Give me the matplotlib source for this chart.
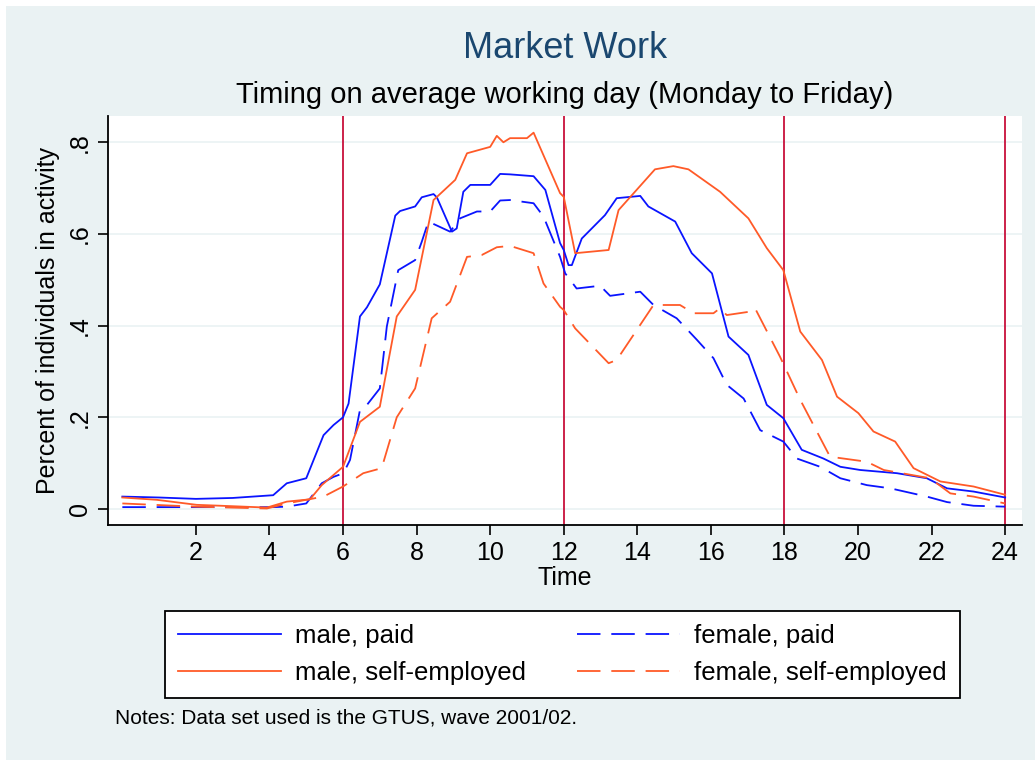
import matplotlib.pyplot as plt
from matplotlib.patches import Rectangle

# values (hour of day, share in activity)
male_paid_t = [0, 1, 2, 3, 4.1, 4.47, 5.0, 5.47, 5.74, 6.0, 6.15, 6.46, 6.65, 7.0, 7.42, 7.55,
               7.96, 8.14, 8.46, 8.55, 8.96, 9.09, 9.27, 9.46, 10.0, 10.27, 10.54, 11.18, 11.5,
               11.9, 12.0, 12.13, 12.22, 12.49, 13.12, 13.44, 14.08, 14.3, 15.03, 15.48, 16.03,
               16.48, 17.02, 17.52, 17.97, 18.47, 19.06, 19.52, 20.06, 21.06, 21.87, 22.42,
               23.14, 24.0]
male_paid = [0.027, 0.025, 0.022, 0.024, 0.03, 0.056, 0.067, 0.161, 0.183, 0.2, 0.23, 0.42, 0.44,
             0.49, 0.64, 0.65, 0.66, 0.68, 0.687, 0.68, 0.605, 0.612, 0.692, 0.707, 0.707, 0.731,
             0.73, 0.726, 0.696, 0.58, 0.565, 0.532, 0.532, 0.59, 0.641, 0.678, 0.683, 0.66,
             0.627, 0.558, 0.514, 0.376, 0.336, 0.227, 0.198, 0.129, 0.11, 0.092, 0.085, 0.078,
             0.067, 0.045, 0.038, 0.025]

female_paid_t = [0, 2, 4.1, 4.47, 5.0, 5.42, 5.74, 6.01, 6.19, 6.46, 6.65, 7.0, 7.19, 7.5, 7.96,
                 8.14, 8.32, 8.91, 9.18, 9.64, 10.0, 10.27, 10.54, 11.18, 11.45, 11.9, 12.04,
                 12.35, 12.99, 13.26, 14.08, 14.44, 15.07, 15.62, 16.07, 16.43, 16.89, 17.34,
                 17.97, 18.34, 18.97, 19.52, 20.24, 20.88, 21.87, 22.42, 23.14, 24.0]
female_paid = [0.004, 0.004, 0.004, 0.005, 0.012, 0.056, 0.07, 0.078, 0.107, 0.216, 0.227, 0.263,
               0.398, 0.521, 0.543, 0.583, 0.627, 0.605, 0.634, 0.649, 0.649, 0.673, 0.674, 0.667,
               0.638, 0.55, 0.514, 0.481, 0.487, 0.465, 0.474, 0.445, 0.416, 0.369, 0.329, 0.271,
               0.241, 0.172, 0.147, 0.11, 0.092, 0.067, 0.052, 0.045, 0.027, 0.015, 0.007, 0.005]

male_self_t = [0, 0.93, 2.02, 3.0, 3.93, 4.47, 5.1, 5.42, 6.0, 6.46, 7.0, 7.46, 7.96, 8.46, 9.05,
               9.37, 9.64, 10.0, 10.18, 10.36, 10.54, 11.0, 11.18, 11.9, 12.0, 12.31, 13.22,
               13.49, 14.08, 14.48, 14.98, 15.39, 16.25, 17.02, 17.52, 17.97, 18.43, 19.02,
               19.43, 20.01, 20.42, 21.01, 21.51, 22.24, 23.14, 24.0]
male_self = [0.025, 0.02, 0.009, 0.006, 0.003, 0.016, 0.021, 0.052, 0.092, 0.19, 0.223, 0.42,
             0.478, 0.674, 0.718, 0.776, 0.782, 0.79, 0.814, 0.80, 0.809, 0.809, 0.821, 0.689,
             0.681, 0.558, 0.565, 0.652, 0.705, 0.741, 0.748, 0.741, 0.692, 0.634, 0.569, 0.521,
             0.387, 0.325, 0.245, 0.209, 0.169, 0.147, 0.089, 0.06, 0.049, 0.031]

female_self_t = [0, 2.0, 3.93, 4.47, 5.47, 6.0, 6.55, 7.05, 7.46, 7.96, 8.41, 8.91, 9.37, 9.77,
                 10.18, 10.54, 11.18, 11.45, 11.9, 12.0, 12.31, 13.22, 13.44, 14.44, 15.16, 15.53,
                 16.07, 16.25, 16.43, 17.02, 17.2, 17.88, 18.43, 19.24, 20.24, 20.7, 21.96, 22.51,
                 23.14, 24.0]
female_self = [0.012, 0.005, 0.001, 0.012, 0.027, 0.049, 0.078, 0.089, 0.2, 0.263, 0.416, 0.452,
               0.55, 0.554, 0.571, 0.574, 0.558, 0.492, 0.441, 0.434, 0.394, 0.318, 0.325, 0.445,
               0.445, 0.427, 0.427, 0.438, 0.423, 0.43, 0.438, 0.332, 0.238, 0.114, 0.103, 0.085,
               0.067, 0.034, 0.027, 0.012]

x_ticks = [2, 4, 6, 8, 10, 12, 14, 16, 18, 20, 22, 24]
y_ticks = [0, 0.2, 0.4, 0.6, 0.8]
y_tick_labels = ['0', '.2', '.4', '.6', '.8']
marker_hours = [6, 12, 18, 24]

plt.rcParams['font.family'] = ['Liberation Sans', 'DejaVu Sans']

W, H = 1035, 760
fig = plt.figure(figsize=(W / 100, H / 100), dpi=100, facecolor='white')

# light graph region like Stata s2color
fig.add_artist(Rectangle((6 / W, 0), 1 - 6 / W, 1 - 6 / H, transform=fig.transFigure,
                         facecolor='#eaf2f3', edgecolor='none', zorder=-10))

ax = fig.add_axes([108 / W, 1 - 525 / H, (1021.7 - 108) / W, (525 - 115.7) / H])
ax.set_facecolor('white')

blue = '#0a14ff'
orange = '#ff5a28'
dash = (0, (13, 6))

for t in y_ticks:
    ax.axhline(t, color='#eaf2f3', lw=1.2, zorder=1)
for h in marker_hours:
    ax.axvline(h, color='#c8103c', lw=1.3, zorder=2)

l1, = ax.plot(male_paid_t, male_paid, color=blue, lw=1.3, zorder=3)
l2, = ax.plot(female_paid_t, female_paid, color=blue, lw=1.3, linestyle=dash, zorder=3)
l3, = ax.plot(male_self_t, male_self, color=orange, lw=1.3, zorder=3)
l4, = ax.plot(female_self_t, female_self, color=orange, lw=1.3, linestyle=dash, zorder=3)

ax.set_xlim(-0.39, 24.45)
ax.set_ylim(-0.035, 0.858)

for s in ['top', 'right']:
    ax.spines[s].set_visible(False)
for s in ['left', 'bottom']:
    ax.spines[s].set_linewidth(1.3)
    ax.spines[s].set_color('black')

ax.set_xticks(x_ticks)
ax.set_yticks(y_ticks)
ax.set_yticklabels(y_tick_labels, rotation=90, va='center')
ax.tick_params(direction='out', length=7.5, width=1.2, labelsize=18, pad=4)

ax.set_xlabel('Time', fontsize=18, labelpad=1)
ax.set_ylabel('Percent of individuals in activity', fontsize=18, labelpad=6)

fig.text(565 / W, 1 - 49 / H, 'Market Work', ha='center', va='center', fontsize=26,
         color='#1a476f')
fig.text(565 / W, 1 - 95 / H, 'Timing on average working day (Monday to Friday)',
         ha='center', va='center', fontsize=21)

# Stata fills legend rows first, matplotlib fills columns first
leg = fig.legend([l1, l3, l2, l4],
                 ['male, paid', 'male, self-employed', 'female, paid', 'female, self-employed'],
                 ncol=2, loc='upper left', bbox_to_anchor=(165 / W, 1 - 611 / H),
                 fontsize=18.5, frameon=True, fancybox=False, framealpha=1,
                 facecolor='white', edgecolor='black', handlelength=4.0,
                 columnspacing=2.0, handletextpad=0.55, borderpad=0.5, labelspacing=0.52,
                 borderaxespad=0)
leg.get_frame().set_linewidth(1.3)

fig.text(115 / W, 1 - 718 / H, 'Notes: Data set used is the GTUS, wave 2001/02.',
         ha='left', va='center', fontsize=15)

fig.savefig('out.png', dpi=100, facecolor=fig.get_facecolor())
